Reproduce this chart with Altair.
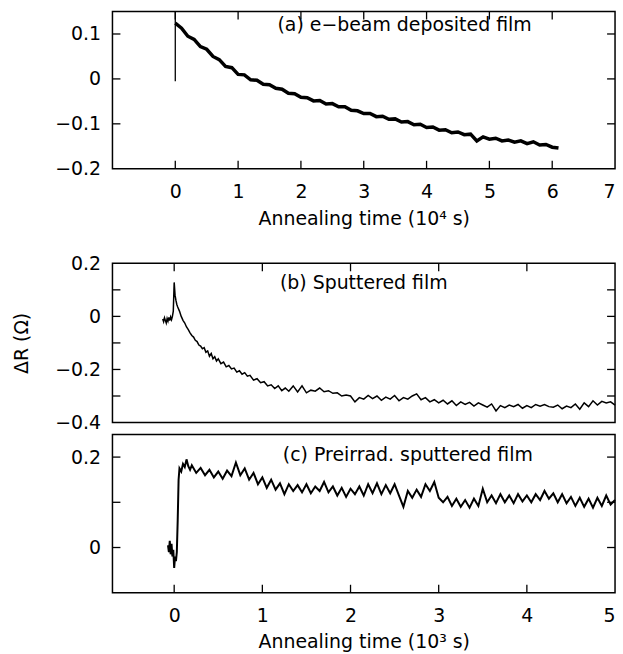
import altair as alt
import pandas as pd

FONT = "DejaVu Sans"
FS = 19
W = 505
HA, HB, HC = 158, 160, 159
TICK = 8

# ---------------- panel (a): e-beam deposited film, time in 10^4 s
a_t = [0.0, 0.1, 0.2, 0.3, 0.4, 0.5, 0.6, 0.7, 0.8, 0.9,
       1.0, 1.1, 1.2, 1.3, 1.4, 1.5, 1.6, 1.7, 1.8, 1.9,
       2.0, 2.1, 2.2, 2.3, 2.4, 2.5, 2.6, 2.7, 2.8, 2.9,
       3.0, 3.1, 3.2, 3.3, 3.4, 3.5, 3.6, 3.7, 3.8, 3.9,
       4.0, 4.1, 4.2, 4.3, 4.4, 4.5, 4.6, 4.7, 4.8, 4.9,
       5.0, 5.1, 5.2, 5.3, 5.4, 5.5, 5.6, 5.7, 5.8, 5.9,
       6.0, 6.1]
a_r = [0.124, 0.113, 0.095, 0.088, 0.072, 0.066, 0.050, 0.043, 0.028, 0.025,
       0.010, 0.009, -0.002, -0.003, -0.012, -0.013, -0.021, -0.023, -0.032, -0.033,
       -0.041, -0.042, -0.049, -0.048, -0.056, -0.055, -0.062, -0.062, -0.070, -0.071,
       -0.077, -0.077, -0.084, -0.083, -0.090, -0.089, -0.096, -0.095, -0.102, -0.101,
       -0.108, -0.107, -0.114, -0.113, -0.120, -0.118, -0.124, -0.123, -0.138, -0.129,
       -0.134, -0.132, -0.138, -0.136, -0.141, -0.138, -0.144, -0.140, -0.147, -0.146,
       -0.152, -0.154]
a_spike_t = [0.0]
a_spike_lo = [-0.005]
a_spike_hi = [0.15]

# ---------------- panel (b): sputtered film, time in 10^3 s
b_t = [-0.13, -0.12, -0.11, -0.10, -0.09, -0.08, -0.07, -0.06, -0.05, -0.04,
       -0.03, -0.02, -0.01, 0.00, 0.01, 0.02, 0.03, 0.04, 0.06, 0.08,
       0.10, 0.12, 0.14, 0.16, 0.18, 0.20, 0.22, 0.24, 0.26, 0.28,
       0.30, 0.32, 0.34, 0.36, 0.38, 0.40, 0.42, 0.44, 0.46, 0.48,
       0.50, 0.53, 0.56, 0.59, 0.62, 0.65, 0.68, 0.71, 0.74, 0.77,
       0.80, 0.83, 0.86, 0.90, 0.94, 0.98, 1.02, 1.06, 1.10, 1.14,
       1.18, 1.22, 1.26, 1.30, 1.35, 1.40, 1.45, 1.50, 1.55, 1.60,
       1.65, 1.70, 1.75, 1.80, 1.85, 1.90, 1.95,
       2.00, 2.05, 2.10, 2.15, 2.20, 2.25, 2.30, 2.35, 2.40, 2.45,
       2.50, 2.55, 2.60, 2.65, 2.70, 2.75, 2.80, 2.85, 2.90, 2.95,
       3.00, 3.05, 3.10, 3.15, 3.20, 3.25, 3.30, 3.35, 3.40, 3.45,
       3.50, 3.55, 3.60, 3.65, 3.70, 3.75, 3.80, 3.85, 3.90, 3.95,
       4.00, 4.05, 4.10, 4.15, 4.20, 4.25, 4.30, 4.35, 4.40, 4.45,
       4.50, 4.55, 4.60, 4.65, 4.70, 4.75, 4.80, 4.85, 4.90, 4.95,
       5.00]
b_r = [-0.010, -0.020, -0.005, -0.015, -0.025, -0.008, -0.018, -0.004, -0.016, -0.002,
       -0.012, 0.000, 0.020, 0.128, 0.080, 0.060, 0.045, 0.035, 0.020, 0.000,
       -0.015, -0.025, -0.040, -0.050, -0.062, -0.072, -0.078, -0.090, -0.095, -0.108,
       -0.112, -0.122, -0.118, -0.135, -0.130, -0.150, -0.140, -0.160, -0.152, -0.168,
       -0.160, -0.178, -0.172, -0.190, -0.185, -0.198, -0.195, -0.210, -0.205, -0.218,
       -0.212, -0.225, -0.222, -0.240, -0.235, -0.250, -0.246, -0.262, -0.258, -0.272,
       -0.262, -0.280, -0.270, -0.282, -0.262, -0.285, -0.262, -0.288, -0.278, -0.282,
       -0.270, -0.284, -0.280, -0.290, -0.288, -0.300, -0.296,
       -0.300, -0.322, -0.306, -0.312, -0.298, -0.310, -0.300, -0.316, -0.304, -0.312,
       -0.298, -0.318, -0.306, -0.312, -0.300, -0.292, -0.314, -0.306, -0.322, -0.314,
       -0.326, -0.316, -0.330, -0.318, -0.336, -0.322, -0.332, -0.324, -0.338, -0.326,
       -0.334, -0.342, -0.330, -0.356, -0.336, -0.344, -0.334, -0.340, -0.332, -0.346,
       -0.336, -0.344, -0.332, -0.338, -0.332, -0.340, -0.342, -0.334, -0.348, -0.338,
       -0.344, -0.330, -0.350, -0.326, -0.340, -0.318, -0.334, -0.320, -0.326, -0.322,
       -0.334]

# ---------------- panel (c): preirradiated sputtered film, time in 10^3 s
c_t = [-0.07, -0.06, -0.05, -0.04, -0.03, -0.02, -0.01, 0.00, 0.01, 0.02,
       0.03, 0.04, 0.05, 0.06, 0.08, 0.10, 0.12, 0.14, 0.16, 0.18,
       0.20, 0.25, 0.30, 0.35, 0.40, 0.45, 0.50, 0.55, 0.60, 0.65,
       0.70, 0.75, 0.80, 0.85, 0.90, 0.95, 1.00, 1.05, 1.10, 1.15,
       1.20, 1.25, 1.30, 1.35, 1.40, 1.45, 1.50, 1.55, 1.60, 1.65,
       1.70, 1.75, 1.80, 1.85, 1.90, 1.95, 2.00, 2.05, 2.10, 2.15,
       2.20, 2.25, 2.30, 2.35, 2.40, 2.45, 2.50, 2.55, 2.60, 2.65,
       2.70, 2.75, 2.80, 2.85, 2.90, 2.95, 3.00, 3.05, 3.10, 3.15,
       3.20, 3.25, 3.30, 3.35, 3.40, 3.45, 3.50, 3.55, 3.60, 3.65,
       3.70, 3.75, 3.80, 3.85, 3.90, 3.95, 4.00, 4.05, 4.10, 4.15,
       4.20, 4.25, 4.30, 4.35, 4.40, 4.45, 4.50, 4.55, 4.60, 4.65,
       4.70, 4.75, 4.80, 4.85, 4.90, 4.95, 5.00]
c_r = [0.005, -0.010, 0.015, -0.015, 0.008, -0.020, -0.005, -0.045, -0.020, -0.030,
       -0.010, 0.060, 0.150, 0.175, 0.168, 0.185, 0.178, 0.195, 0.180, 0.172,
       0.182, 0.165, 0.176, 0.160, 0.172, 0.155, 0.168, 0.152, 0.170, 0.158,
       0.188, 0.160, 0.175, 0.150, 0.165, 0.140, 0.155, 0.132, 0.150, 0.128,
       0.142, 0.118, 0.140, 0.125, 0.138, 0.122, 0.140, 0.120, 0.135, 0.125,
       0.145, 0.122, 0.135, 0.115, 0.132, 0.112, 0.130, 0.118, 0.135, 0.115,
       0.140, 0.120, 0.142, 0.118, 0.138, 0.120, 0.140, 0.115, 0.090, 0.125,
       0.110, 0.128, 0.112, 0.140, 0.125, 0.145, 0.110, 0.100, 0.112, 0.092,
       0.108, 0.090, 0.105, 0.088, 0.108, 0.092, 0.130, 0.100, 0.115, 0.098,
       0.118, 0.100, 0.115, 0.098, 0.118, 0.102, 0.115, 0.100, 0.118, 0.105,
       0.125, 0.108, 0.120, 0.100, 0.118, 0.098, 0.112, 0.092, 0.110, 0.090,
       0.108, 0.088, 0.110, 0.092, 0.115, 0.095, 0.105]

# tick positions / labels
a_xlabels = [0, 1, 2, 3, 4, 5, 6, 7]
a_xticks = [0, 1, 2, 3, 4, 5, 6]
a_ylabels = [-0.2, -0.1, 0.0, 0.1]
a_yticks = [-0.1, 0.0, 0.1]
bc_xlabels = [0, 1, 2, 3, 4, 5]
bc_xticks = [0, 1, 2, 3, 4]
b_ylabels = [-0.4, -0.2, 0.0, 0.2]
b_yticks = [-0.3, -0.2, -0.1, 0.0, 0.1]
c_ylabels = [0.0, 0.2]
c_yticks = [0.0, 0.1, 0.2]

labels = ["(a) e\u2212beam deposited film", "(b) Sputtered film", "(c) Preirrad. sputtered film"]
lab_a = (3.65, 0.12)
lab_b = (2.15, 0.125)
lab_c = (2.65, 0.205)

xa_scale = alt.Scale(domain=[-1, 7], nice=False, zero=False)
ya_scale = alt.Scale(domain=[-0.2, 0.15], nice=False, zero=False)
xbc_scale = alt.Scale(domain=[-0.7, 5], nice=False, zero=False)
yb_scale = alt.Scale(domain=[-0.4, 0.2], nice=False, zero=False)
yc_scale = alt.Scale(domain=[-0.1, 0.25], nice=False, zero=False)


def xaxis(values, title, lpad, tpad):
    return alt.Axis(values=values, title=title, format="~g", labelPadding=lpad,
                    titlePadding=tpad, grid=False, ticks=False, domain=False)


def yaxis(values, title=None):
    kw = dict(values=values, format=".1~f", labelPadding=12, grid=False,
              ticks=False, domain=False)
    if title:
        kw["title"] = title
        kw["titlePadding"] = 23
    else:
        kw["title"] = None
    return alt.Axis(**kw)


xa_axis = xaxis(a_xlabels, "Annealing time (10\u2074 s)", 14, 8)
ya_axis = yaxis(a_ylabels)
xc_axis = xaxis(bc_xlabels, "Annealing time (10\u00b3 s)", 14, 7)
yb_axis = yaxis(b_ylabels, "\u0394R (\u03a9)")
yc_axis = yaxis(c_ylabels)


def X(field, scale, axis):
    if axis is None:
        return alt.X(field, scale=scale, axis=None)
    return alt.X(field, scale=scale, axis=axis)


def Y(field, scale, axis):
    if axis is None:
        return alt.Y(field, scale=scale, axis=None)
    return alt.Y(field, scale=scale, axis=axis)


def x_ticks(vals, xs, xax, H, top=True, bottom=True):
    df = pd.DataFrame({"v": vals})
    base = alt.Chart(df).mark_rule(color="black", strokeWidth=1.3)
    layers = []
    if bottom:
        layers.append(base.encode(x=X("v:Q", xs, xax), y=alt.value(H), y2=alt.value(H - TICK)))
    if top:
        layers.append(base.encode(x=X("v:Q", xs, xax), y=alt.value(0), y2=alt.value(TICK)))
    return layers


def y_ticks(vals, ys, yax):
    df = pd.DataFrame({"v": vals})
    base = alt.Chart(df).mark_rule(color="black", strokeWidth=1.3)
    return [base.encode(y=Y("v:Q", ys, yax), x=alt.value(0), x2=alt.value(TICK)),
            base.encode(y=Y("v:Q", ys, yax), x=alt.value(W), x2=alt.value(W - TICK))]


def label_layer(text, pos, xs, ys, xax, yax):
    df = pd.DataFrame({"x": [pos[0]], "y": [pos[1]], "t": [text]})
    return alt.Chart(df).mark_text(font=FONT, fontSize=FS, align="center",
                                   baseline="middle", color="black").encode(
        x=X("x:Q", xs, xax), y=Y("y:Q", ys, yax), text="t:N")


# ---- panel a
dfa = pd.DataFrame({"t": a_t, "r": a_r, "i": range(len(a_t))})
line_a = alt.Chart(dfa).mark_line(color="black", strokeWidth=3.5).encode(
    x=X("t:Q", xa_scale, xa_axis), y=Y("r:Q", ya_scale, ya_axis), order="i:Q")
spike_a = alt.Chart(pd.DataFrame({"t": a_spike_t, "lo": a_spike_lo, "hi": a_spike_hi})).mark_rule(
    color="black", strokeWidth=1.3).encode(
    x=X("t:Q", xa_scale, xa_axis), y=Y("lo:Q", ya_scale, ya_axis), y2="hi:Q")
panel_a = alt.layer(line_a, spike_a,
                    *x_ticks(a_xticks, xa_scale, xa_axis, HA),
                    *y_ticks(a_yticks, ya_scale, ya_axis),
                    label_layer(labels[0], lab_a, xa_scale, ya_scale, xa_axis, ya_axis)
                    ).properties(width=W, height=HA)

# ---- panel b
dfb = pd.DataFrame({"t": b_t, "r": b_r, "i": range(len(b_t))})
line_b = alt.Chart(dfb).mark_line(color="black", strokeWidth=1.5).encode(
    x=X("t:Q", xbc_scale, None), y=Y("r:Q", yb_scale, yb_axis), order="i:Q")
panel_b = alt.layer(line_b,
                    *x_ticks(bc_xticks, xbc_scale, None, HB, top=True, bottom=False),
                    *y_ticks(b_yticks, yb_scale, yb_axis),
                    label_layer(labels[1], lab_b, xbc_scale, yb_scale, None, yb_axis)
                    ).properties(width=W, height=HB)

# ---- panel c
dfc = pd.DataFrame({"t": c_t, "r": c_r, "i": range(len(c_t))})
line_c = alt.Chart(dfc).mark_line(color="black", strokeWidth=2).encode(
    x=X("t:Q", xbc_scale, xc_axis), y=Y("r:Q", yc_scale, yc_axis), order="i:Q")
panel_c = alt.layer(line_c, *x_ticks(bc_xticks, xbc_scale, xc_axis, HC, top=False),
                    *y_ticks(c_yticks, yc_scale, yc_axis),
                    label_layer(labels[2], lab_c, xbc_scale, yc_scale, xc_axis, yc_axis)
                    ).properties(width=W, height=HC)

chart = alt.vconcat(panel_a, alt.vconcat(panel_b, panel_c, spacing=0), spacing=24).properties(
    padding={"left": 12, "top": 8, "right": 3, "bottom": 1}, background="white"
).configure_view(stroke="black", strokeWidth=1.5).configure_axis(
    labelFont=FONT, labelFontSize=FS, labelColor="black",
    titleFont=FONT, titleFontSize=FS, titleColor="black", titleFontWeight="normal"
)

chart.save("out.html", embed_options={"renderer": "svg", "actions": False})
